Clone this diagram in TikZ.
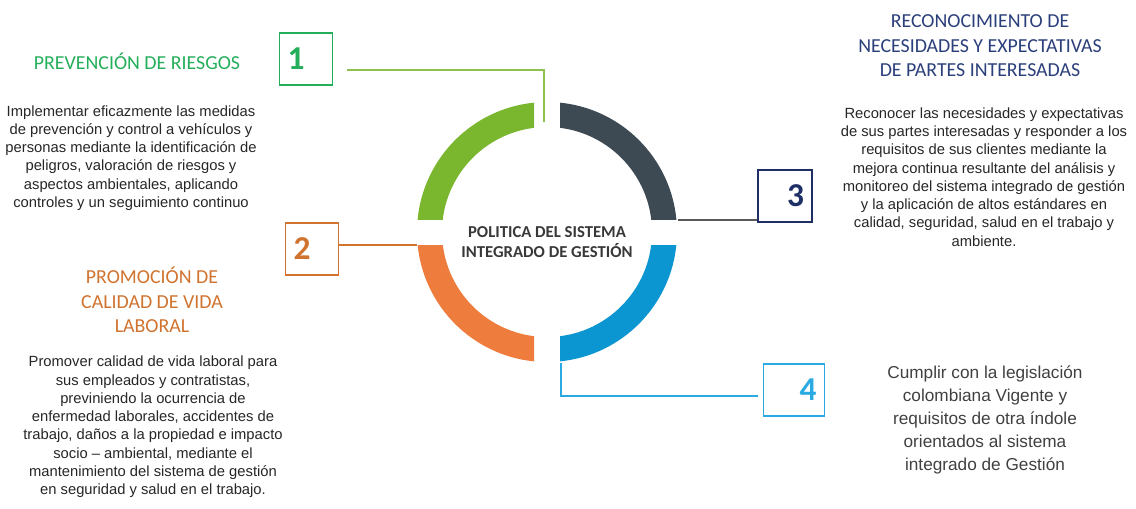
\documentclass[tikz,border=0pt]{standalone}
\usepackage{fontspec}
\setmainfont{Liberation Sans}
\newfontfamily\calibri{Carlito}
\usetikzlibrary{positioning}

\definecolor{verde}{HTML}{7AB62E}
\definecolor{verdeosc}{HTML}{25AE5A}
\definecolor{pizarra}{HTML}{3D4A53}
\definecolor{azul}{HTML}{0B96D1}
\definecolor{celeste}{HTML}{2BAAE2}
\definecolor{naranja}{HTML}{EE7D3D}
\definecolor{ocre}{HTML}{D0732F}
\definecolor{marino}{HTML}{1E2F66}
\definecolor{tituloazul}{HTML}{2B3F7A}

\begin{document}
\begin{tikzpicture} [
						x=0.02cm, y=-0.02cm,
						titulo/.style={align=center, font=\calibri\fontsize{11.3}{14}\selectfont},
						texto/.style={align=center, text=black!85, font=\fontsize{8.4}{10.4}\selectfont},
						numbox/.style={draw, line width=0.7pt, minimum height=1.04cm, inner xsep=0.16cm,
							font=\calibri\bfseries\fontsize{19}{19}\selectfont},
						enlace/.style={line width=0.6pt}
					]

\useasboundingbox (0,0) rectangle (1136,508);

% anillo
\coordinate (c) at (547,232);
\begin{scope}
	\clip (380,80) rectangle (534,219);
	\fill[verde, even odd rule] (c) circle (2.6cm) (c) circle (2.1cm);
\end{scope}
\begin{scope}
	\clip (560,80) rectangle (720,219);
	\fill[pizarra, even odd rule] (c) circle (2.6cm) (c) circle (2.1cm);
\end{scope}
\begin{scope}
	\clip (380,245) rectangle (534,380);
	\fill[naranja, even odd rule] (c) circle (2.6cm) (c) circle (2.1cm);
\end{scope}
\begin{scope}
	\clip (560,245) rectangle (720,380);
	\fill[azul, even odd rule] (c) circle (2.6cm) (c) circle (2.1cm);
\end{scope}

\node (centro) at (547,242) [align=center, text=black!78,
	font=\calibri\bfseries\fontsize{9.5}{11.4}\selectfont] {POLITICA DEL SISTEMA\\INTEGRADO DE GESTIÓN};

% cajas
\node (b1) at (306,59) [numbox, draw=verdeosc, text=verdeosc, text width=0.74cm, align=left] {1};
\node (b2) at (312,249) [numbox, draw=ocre, text=ocre, text width=0.74cm, align=left] {2};
\node (b3) at (785,196) [numbox, draw=marino, text=marino, text width=0.76cm, align=right] {3};
\node (b4) at (794,390) [numbox, draw=celeste, text=celeste, text width=0.9cm, align=right] {4};

% textos
\node (t1) at (137,61) [titulo, text=verdeosc] {PREVENCIÓN DE RIESGOS};
\node (p1) at (131,158) [texto] {Implementar eficazmente las medidas\\de prevención y control a vehículos y\\personas mediante la identificación de\\peligros, valoración de riesgos y\\aspectos ambientales, aplicando\\controles y un seguimiento continuo};
\node (t2) at (152,300) [titulo, text=ocre] {PROMOCIÓN DE\\CALIDAD DE VIDA\\LABORAL};
\node (p2) at (153,427) [texto] {Promover calidad de vida laboral para\\sus empleados y contratistas,\\previniendo la ocurrencia de\\enfermedad laborales, accidentes de\\trabajo, daños a la propiedad e impacto\\socio – ambiental, mediante el\\mantenimiento del sistema de gestión\\en seguridad y salud en el trabajo.};
\node (t3) at (980,46) [titulo, text=tituloazul] {RECONOCIMIENTO DE\\NECESIDADES Y EXPECTATIVAS\\DE PARTES INTERESADAS};
\node (p3) at (984,177) [texto] {Reconocer las necesidades y expectativas\\de sus partes interesadas y responder a los\\requisitos de sus clientes mediante la\\mejora continua resultante del análisis y\\monitoreo del sistema integrado de gestión\\y la aplicación de altos estándares en\\calidad, seguridad, salud en el trabajo y\\ambiente.};
\node (p4) at (985,420) [texto, text=black!75, font=\fontsize{9.8}{13}\selectfont] {Cumplir con la legislación\\colombiana Vigente y\\requisitos de otra índole\\orientados al sistema\\integrado de Gestión};

% conectores
\coordinate (s1) at (347,70);
\coordinate (e1) at (544,122);
\coordinate (e2) at (417,245);
\coordinate (e3) at (678,220);
\coordinate (e4) at (561,363);
\coordinate (s4) at (758,396);

\draw[enlace, verde!85] (s1) -| (e1);
\draw[enlace, ocre] (b2.east |- e2) -- (e2);
\draw[enlace, black!65] (e3) -- (b3.west |- e3);
\draw[enlace, celeste] (e4) |- (s4);
\end{tikzpicture}
\end{document}
